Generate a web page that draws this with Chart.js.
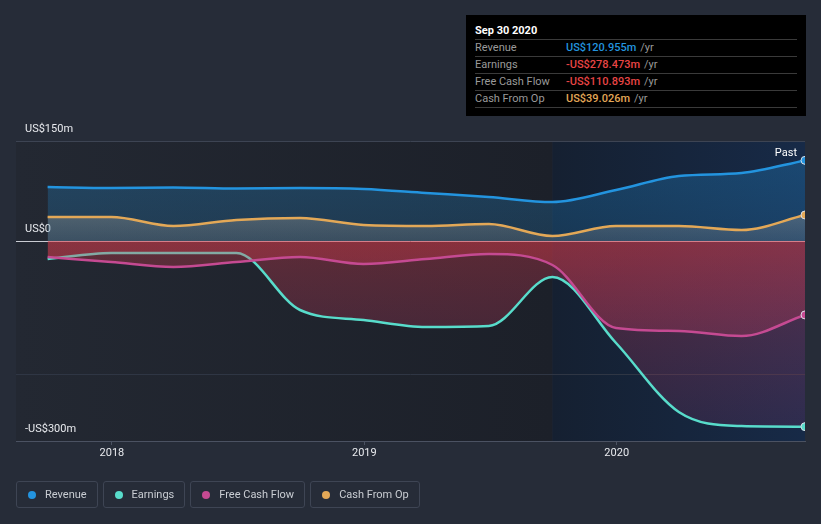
<!DOCTYPE html>
<html>
<head>
<title>Revenue and earnings</title>
<script src="https://cdn.jsdelivr.net/npm/chart.js@4.4.2/dist/chart.umd.min.js"></script>
<style>
html, body {
    margin: 0;
    padding: 0;
    background: #262c38;
    font-family: Roboto, "Noto Sans", sans-serif;
}
#wrap {
    position: relative;
    width: 821px;
    height: 524px;
}
#chart {
    position: absolute;
    left: 0;
    top: 0;
}
#tip {
    position: absolute;
    left: 466px;
    top: 15px;
    width: 340px;
    height: 101px;
    background: #000;
    box-sizing: border-box;
    padding: 0 9px;
    font-size: 11px;
}
#tip .title {
    color: #fff;
    font-weight: bold;
    height: 24px;
    line-height: 32px;
    border-bottom: 1px solid #3a3a3a;
}
#tip .row {
    height: 16px;
    line-height: 16px;
    border-bottom: 1px solid #3a3a3a;
    color: #9a9a9a;
    display: flex;
}
#tip .row span.lbl {
    width: 91px;
}
#tip .row b {
    font-weight: 500;
    margin-right: 4px;
}
#legend {
    position: absolute;
    left: 16px;
    top: 481px;
    display: flex;
    gap: 5px;
}
.item {
    height: 25px;
    border: 1px solid #3e4554;
    border-radius: 3px;
    padding: 0 10px 0 11px;
    display: flex;
    align-items: center;
    color: #c9cdd3;
    font-size: 11px;
}
.item i {
    width: 8px;
    height: 8px;
    border-radius: 50%;
    margin-right: 9px;
}
</style>
</head>
<body>
<div id="wrap">
    <canvas id="chart" width="821" height="524"></canvas>
    <div id="tip"></div>
    <div id="legend"></div>
</div>
<script>
// quarter ends, trailing twelve months, values in US$ m
const quarters = ['2017-09-30', '2017-12-31', '2018-03-31', '2018-06-30', '2018-09-30', '2018-12-31',
    '2019-03-31', '2019-06-30', '2019-09-30', '2019-12-31', '2020-03-31', '2020-06-30', '2020-09-30'];
const revenue = [81, 79.5, 80.3, 78.8, 79.5, 78, 72, 66, 58.5, 76.5, 97.5, 102, 120.955];
const earnings = [-27, -18, -18, -18, -103.5, -118.5, -129, -127.5, -54, -153, -256.5, -277.5, -278.473];
const freeCashFlow = [-24, -31.5, -39, -31.5, -24, -34.5, -27, -19.5, -36, -130.5, -135, -142.5, -110.893];
const cashFromOp = [36, 36, 22.5, 31.5, 34.5, 24, 22.5, 25.5, 7.5, 22.5, 22.5, 16.5, 39.026];
const yearTicks = [2018, 2019, 2020];
const valueTicks = [-300, -200, 0, 150];
const labelledTicks = [-300, 0, 150];
const pastStart = '2019-09-30';

toYear = (s) => {
    const d = new Date(s + 'T00:00:00Z');
    const y = d.getUTCFullYear();
    const a = Date.UTC(y, 0, 1), b = Date.UTC(y + 1, 0, 1);
    return y + (d - a) / (b - a);
};
const xs = quarters.map(toYear);
const pts = (vals) => vals.map((v, i) => ({x: xs[i], y: v}));
const lastOnly = (r) => quarters.map((q, i) => i === quarters.length - 1 ? r : 0);

const series = [
    {name: 'Revenue', data: revenue, color: '#2394df', tipColor: '#2394df'},
    {name: 'Earnings', data: earnings, color: '#58dccb', tipColor: '#e84545'},
    {name: 'Free Cash Flow', data: freeCashFlow, color: '#c54a92', tipColor: '#e84545'},
    {name: 'Cash From Op', data: cashFromOp, color: '#e3a857', tipColor: '#e3a857'}
];

const fmt = (v) => (v < 0 ? '-' : '') + 'US$' + Math.abs(v).toFixed(3) + 'm';

// tooltip box
let tip = '<div class="title">' + new Date(quarters[quarters.length - 1] + 'T00:00:00Z')
    .toLocaleDateString('en-US', {month: 'short', day: 'numeric', year: 'numeric', timeZone: 'UTC'}).replace(',', '') + '</div>';
series.forEach(s => {
    tip += '<div class="row"><span class="lbl">' + s.name + '</span><b style="color:' + s.tipColor + '">' +
        fmt(s.data[s.data.length - 1]) + '</b>/yr</div>';
});
document.getElementById('tip').innerHTML = tip;

// legend
document.getElementById('legend').innerHTML = series.map(s =>
    '<div class="item"><i style="background:' + s.color + '"></i>' + s.name + '</div>').join('');

vGrad = (chart, from, to, c0, c1) => {
    const a = chart.chartArea;
    if (!a) return c0;
    const y = chart.scales.y;
    const g = chart.ctx.createLinearGradient(0, y.getPixelForValue(from), 0, y.getPixelForValue(to));
    g.addColorStop(0, c0);
    g.addColorStop(1, c1);
    return g;
};

const backdrop = {
    id: 'backdrop',
    beforeDraw(chart) {
        const {ctx, chartArea: a, scales: {x}} = chart;
        const split = x.getPixelForValue(toYear(pastStart));
        ctx.save();
        let g = ctx.createLinearGradient(a.left, 0, split, 0);
        g.addColorStop(0, '#232832');
        g.addColorStop(1, '#1c2029');
        ctx.fillStyle = g;
        ctx.fillRect(a.left, a.top, split - a.left, a.bottom - a.top);
        g = ctx.createLinearGradient(split, 0, a.right, 0);
        g.addColorStop(0, '#152031');
        g.addColorStop(1, '#172a47');
        ctx.fillStyle = g;
        ctx.fillRect(split, a.top, a.right - split, a.bottom - a.top);
        ctx.restore();
    },
    afterDraw(chart) {
        const {ctx, chartArea: a} = chart;
        ctx.save();
        ctx.fillStyle = '#ffffff';
        ctx.font = '11px Roboto';
        ctx.textAlign = 'right';
        ctx.textBaseline = 'middle';
        ctx.fillText('Past', a.right - 8, a.top + 12);
        ctx.restore();
    }
};

const line = (s, order, fill) => Object.assign({
    label: s.name,
    data: pts(s.data),
    borderColor: s.color,
    borderWidth: 2.5,
    cubicInterpolationMode: 'monotone',
    pointRadius: lastOnly(4),
    pointBackgroundColor: s.color,
    pointBorderColor: '#d8dde6',
    pointBorderWidth: 1,
    clip: 0,
    order: order
}, fill);

const chart = new Chart(document.getElementById('chart'), {
    type: 'line',
    data: {
        datasets: [
            line(series[3], 1, {fill: 'origin', backgroundColor: (c) => vGrad(c.chart, 40, 0, 'rgba(175,170,160,0.33)', 'rgba(150,150,150,0.22)')}),
            line(series[2], 2, {fill: 'origin', backgroundColor: (c) => vGrad(c.chart, 0, -300, 'rgba(225,60,75,0.33)', 'rgba(200,60,120,0.1)')}),
            line(series[1], 3, {fill: 'origin', backgroundColor: (c) => vGrad(c.chart, 0, -300, 'rgba(225,60,75,0.32)', 'rgba(190,60,130,0.12)')}),
            line(series[0], 4, {fill: 'origin', backgroundColor: (c) => vGrad(c.chart, 150, 0, 'rgba(35,148,223,0.3)', 'rgba(35,148,223,0.2)')})
        ]
    },
    options: {
        responsive: false,
        animation: false,
        layout: {padding: {left: 16, right: 16, top: 141, bottom: 53}},
        plugins: {legend: {display: false}, tooltip: {enabled: false}},
        scales: {
            x: {
                type: 'linear',
                min: 2017.62,
                max: toYear(quarters[quarters.length - 1]),
                afterBuildTicks: (s) => { s.ticks = yearTicks.map(v => ({value: v})); },
                afterFit: (s) => { s.height = 30; },
                grid: {drawOnChartArea: false, drawTicks: true, tickLength: 4, color: '#4b5262'},
                border: {color: '#4b5262'},
                ticks: {color: '#e8eaee', padding: 2, font: {family: 'Roboto', size: 11}, callback: (v) => String(v)}
            },
            y: {
                min: -300,
                max: 150,
                afterBuildTicks: (s) => { s.ticks = valueTicks.map(v => ({value: v})); },
                afterFit: (s) => { s.width = 0; },
                border: {display: false},
                grid: {
                    drawTicks: false,
                    color: (c) => c.tick.value === 0 ? '#c9ccd3' : c.tick.value === 150 ? '#3d4453' : c.tick.value === -300 ? '#4b5262' : '#2f3644'
                },
                ticks: {
                    mirror: true,
                    padding: 9,
                    labelOffset: -12,
                    color: '#e8eaee',
                    font: {family: 'Roboto', size: 11},
                    callback: (v) => labelledTicks.includes(v) ? (v === 0 ? 'US$0' : (v < 0 ? '-' : '') + 'US$' + Math.abs(v) + 'm') : ''
                }
            }
        }
    },
    plugins: [backdrop]
});
</script>
</body>
</html>
